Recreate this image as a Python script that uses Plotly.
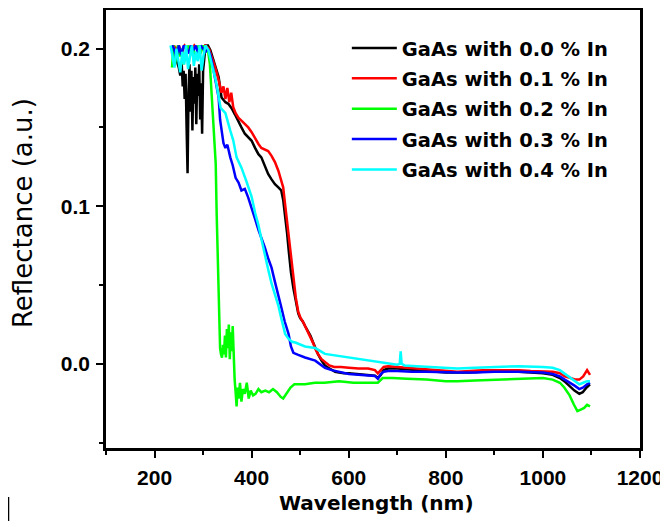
import plotly.graph_objects as go

# wavelength (nm) / reflectance (a.u.)
wl_00 = [238, 242, 246, 250, 253, 256, 258, 260, 262, 264,
         266, 268, 270, 272, 274, 276, 278, 280, 282, 284,
         286, 288, 290, 292, 294, 296, 298, 300, 302, 305,
         310, 315, 320, 326, 332, 338, 346, 352, 359, 366,
         372, 379, 386, 393, 400, 407, 414, 420, 427, 434,
         441, 448, 455, 461, 465, 469, 473, 477, 481, 486,
         491, 496, 500, 505, 510, 516, 521, 526, 531, 537,
         544, 551, 558, 565, 572, 580, 590, 600, 615, 630,
         645, 654, 660, 666, 672, 681, 700, 720, 740, 760,
         780, 800, 824, 850, 875, 900, 925, 950, 975, 1000,
         1020, 1035, 1044, 1055, 1065, 1075, 1082, 1090, 1097]
refl_00 = [0.202, 0.198, 0.192, 0.188, 0.183, 0.190, 0.176, 0.186, 0.168, 0.184,
           0.150, 0.121, 0.172, 0.190, 0.160, 0.186, 0.148, 0.182, 0.165, 0.188,
           0.152, 0.184, 0.170, 0.190, 0.155, 0.178, 0.146, 0.186, 0.192, 0.202,
           0.202, 0.199, 0.194, 0.188, 0.182, 0.169, 0.166, 0.165, 0.162, 0.158,
           0.154, 0.150, 0.146, 0.144, 0.1415, 0.137, 0.133, 0.131, 0.126, 0.1205,
           0.117, 0.114, 0.112, 0.110, 0.104, 0.095, 0.083, 0.070, 0.058, 0.048,
           0.040, 0.032, 0.029, 0.027, 0.024, 0.021, 0.018, 0.014, 0.010, 0.006,
           0.002, -0.001, -0.0025, -0.004, -0.005, -0.0055, -0.006, -0.006, -0.0065, -0.007,
           -0.0072, -0.0075, -0.009, -0.007, -0.004, -0.003, -0.003, -0.0035, -0.004, -0.0045,
           -0.005, -0.0055, -0.0055, -0.0055, -0.005, -0.005, -0.005, -0.005, -0.0055, -0.006,
           -0.007, -0.009, -0.011, -0.014, -0.017, -0.019, -0.018, -0.015, -0.013]

wl_01 = [240, 245, 250, 256, 262, 268, 275, 282, 290, 298,
         305, 312, 318, 325, 332, 338, 342, 346, 350, 354,
         358, 362, 367, 373, 380, 387, 393, 400, 407, 414,
         420, 427, 434, 441, 448, 455, 461, 465, 469, 473,
         477, 481, 486, 491, 496, 501, 507, 512, 517, 522,
         527, 532, 537, 544, 551, 560, 570, 584, 600, 620,
         640, 654, 660, 666, 672, 681, 700, 722, 750, 780,
         800, 824, 850, 875, 900, 925, 950, 975, 1000, 1020,
         1035, 1045, 1057, 1067, 1075, 1083, 1091, 1097]
refl_01 = [0.202, 0.199, 0.202, 0.197, 0.202, 0.200, 0.198, 0.202, 0.199, 0.201,
           0.202, 0.200, 0.195, 0.188, 0.180, 0.172, 0.176, 0.168, 0.175, 0.166,
           0.172, 0.163, 0.159, 0.156, 0.154, 0.152, 0.150, 0.147, 0.143, 0.1395,
           0.137, 0.136, 0.135, 0.132, 0.128, 0.1225, 0.117, 0.112, 0.101, 0.090,
           0.080, 0.070, 0.055, 0.042, 0.033, 0.029, 0.026, 0.023, 0.020, 0.017,
           0.013, 0.009, 0.006, 0.003, 0.001, -0.001, -0.002, -0.002, -0.0025, -0.003,
           -0.003, -0.004, -0.006, -0.004, -0.002, -0.0015, -0.002, -0.0025, -0.003, -0.004,
           -0.0045, -0.005, -0.0045, -0.004, -0.004, -0.004, -0.004, -0.0045, -0.005, -0.005,
           -0.006, -0.008, -0.009, -0.010, -0.010, -0.008, -0.004, -0.007]

wl_02 = [236, 239, 242, 245, 248, 252, 256, 260, 265, 270,
         275, 280, 285, 290, 295, 300, 305, 310, 314, 318,
         322, 326, 328, 330, 333, 335, 337, 339, 341, 343,
         345, 347, 349, 351, 353, 355, 357, 359, 361, 363,
         365, 367, 369, 371, 373, 376, 379, 382, 386, 390,
         394, 398, 403, 408, 414, 420, 428, 436, 444, 452,
         460, 465, 472, 480, 488, 496, 510, 530, 550, 580,
         610, 640, 660, 670, 690, 720, 760, 800, 824, 860,
         900, 950, 1000, 1020, 1035, 1044, 1055, 1064, 1071, 1078,
         1085, 1091, 1097]
refl_02 = [0.188, 0.202, 0.190, 0.198, 0.202, 0.195, 0.200, 0.190, 0.198, 0.202,
           0.196, 0.200, 0.193, 0.202, 0.197, 0.202, 0.198, 0.199, 0.190, 0.169,
           0.148, 0.127, 0.095, 0.065, 0.035, 0.010, 0.006, 0.004, 0.012, 0.006,
           0.018, 0.004, 0.022, 0.010, 0.025, 0.003, 0.020, 0.008, 0.024, 0.000,
           -0.010, -0.018, -0.027, -0.015, -0.022, -0.012, -0.024, -0.016, -0.019, -0.012,
           -0.022, -0.017, -0.020, -0.019, -0.016, -0.018, -0.017, -0.018, -0.016, -0.018,
           -0.021, -0.022, -0.019, -0.015, -0.013, -0.013, -0.013, -0.012, -0.012, -0.011,
           -0.012, -0.012, -0.012, -0.009, -0.009, -0.0095, -0.010, -0.011, -0.011, -0.0105,
           -0.010, -0.0095, -0.009, -0.010, -0.012, -0.015, -0.020, -0.026, -0.030, -0.029,
           -0.028, -0.026, -0.027]

wl_03 = [236, 240, 245, 250, 255, 260, 265, 270, 275, 280,
         285, 290, 295, 300, 305, 310, 315, 318, 325, 332,
         335, 338, 342, 346, 350, 356, 361, 367, 373, 379,
         386, 393, 400, 408, 414, 420, 427, 434, 441, 448,
         455, 461, 468, 476, 481, 486, 496, 510, 531, 551,
         565, 584, 600, 620, 640, 654, 660, 666, 672, 681,
         700, 730, 760, 800, 824, 860, 900, 950, 1000, 1020,
         1035, 1045, 1057, 1066, 1075, 1083, 1091, 1097]
refl_03 = [0.202, 0.200, 0.194, 0.202, 0.196, 0.202, 0.200, 0.197, 0.202, 0.199,
           0.202, 0.196, 0.202, 0.200, 0.198, 0.200, 0.196, 0.192, 0.180, 0.169,
           0.155, 0.148, 0.140, 0.137, 0.139, 0.131, 0.126, 0.118, 0.115, 0.110,
           0.111, 0.1055, 0.098, 0.091, 0.085, 0.080, 0.074, 0.067, 0.061, 0.052,
           0.044, 0.036, 0.027, 0.019, 0.011, 0.007, 0.0057, 0.004, 0.002, -0.0025,
           -0.004, -0.0055, -0.0065, -0.007, -0.0075, -0.0077, -0.0095, -0.0065, -0.005, -0.0045,
           -0.0045, -0.005, -0.005, -0.0055, -0.0055, -0.0055, -0.005, -0.005, -0.0055, -0.0065,
           -0.008, -0.010, -0.012, -0.014, -0.016, -0.015, -0.013, -0.012]

wl_04 = [233, 237, 241, 245, 249, 253, 257, 261, 265, 269,
         273, 277, 281, 285, 289, 293, 297, 301, 305, 311,
         318, 326, 336, 346, 356, 362, 369, 379, 389, 400,
         407, 414, 421, 427, 434, 441, 448, 455, 461, 465,
         469, 476, 483, 490, 500, 510, 520, 531, 551, 580,
         619, 650, 687, 700, 705, 707, 709, 715, 740, 770,
         800, 824, 860, 900, 950, 1000, 1020, 1035, 1044, 1055,
         1065, 1075, 1083, 1091, 1097]
refl_04 = [0.202, 0.196, 0.188, 0.200, 0.192, 0.185, 0.198, 0.190, 0.202, 0.187,
           0.195, 0.202, 0.189, 0.198, 0.192, 0.202, 0.186, 0.196, 0.202, 0.199,
           0.190, 0.180, 0.1625, 0.159, 0.148, 0.142, 0.131, 0.1245, 0.116, 0.106,
           0.096, 0.088, 0.078, 0.069, 0.060, 0.051, 0.044, 0.037, 0.029, 0.024,
           0.019, 0.016, 0.014, 0.0135, 0.012, 0.011, 0.0105, 0.010, 0.0063, 0.005,
           0.003, 0.0015, 0.0, -0.0005, 0.0, 0.008, 0.0, -0.001, -0.0015, -0.002,
           -0.0025, -0.003, -0.0025, -0.002, -0.0015, -0.002, -0.0025, -0.004, -0.006, -0.0085,
           -0.011, -0.013, -0.012, -0.011, -0.011]

series = [
    ("GaAs with 0.0 % In", wl_00, refl_00, "#000000"),
    ("GaAs with 0.1 % In", wl_01, refl_01, "#ff0000"),
    ("GaAs with 0.2 % In", wl_02, refl_02, "#00ff00"),
    ("GaAs with 0.3 % In", wl_03, refl_03, "#0000ff"),
    ("GaAs with 0.4 % In", wl_04, refl_04, "#00ffff"),
]

fig = go.Figure()
for i, (name, x, y, col) in enumerate(series):
    fig.add_trace(go.Scatter(x=x, y=y, mode="lines", name=name,
                             legendgroup=str(i),
                             line=dict(color=col, width=2.5)))

ARIAL = "Arial, Liberation Sans, sans-serif"
axis_common = dict(showline=True, linecolor="black", linewidth=2.5, mirror=True,
                   showgrid=False, zeroline=False, automargin=False,
                   ticks="outside", ticklen=7, tickwidth=2, tickcolor="black",
                   tickfont=dict(family=ARIAL, size=21, color="black", weight="bold"))

# the page body adds an 8px margin, so the figure is 8px smaller than the window
fig.update_layout(
    width=660, height=513,
    margin=dict(l=98, r=28, t=2, b=73),
    plot_bgcolor="white", paper_bgcolor="white",
    xaxis=dict(range=[100, 1200], tick0=0, dtick=200, ticklabelstandoff=2,
               minor=dict(dtick=100, ticklen=4, tickwidth=2, ticks="outside", tickcolor="black"),
               **axis_common),
    yaxis=dict(range=[-0.0534, 0.2245], tick0=0, dtick=0.1, tickformat=".1f",
               ticklabelstandoff=2,
               minor=dict(dtick=0.05, ticklen=4, tickwidth=2, ticks="outside", tickcolor="black"),
               **axis_common),
    legend=dict(x=0.451, y=0.957, xanchor="left", yanchor="top",
                bgcolor="rgba(0,0,0,0)", tracegroupgap=2, itemwidth=45,
                font=dict(family="DejaVu Sans", size=19.5, color="black", weight="bold")),
    showlegend=True,
)

# axis titles placed as annotations to match the original positions
fig.add_annotation(text="Wavelength (nm)", xref="paper", yref="paper",
                   x=0.507, y=-0.1256, xanchor="center", yanchor="middle",
                   showarrow=False,
                   font=dict(family="DejaVu Sans", size=20, color="black", weight="bold"))
fig.add_annotation(text="Reflectance (a.u.)", xref="paper", yref="paper",
                   x=-0.155, y=0.537, xanchor="center", yanchor="middle",
                   textangle=-90, showarrow=False,
                   font=dict(family="DejaVu Sans", size=26, color="black"))

# small stray bar at lower-left corner of the original image
fig.add_shape(type="line", xref="paper", yref="paper",
              x0=-0.1835, x1=-0.1835, y0=-0.112, y1=-0.167,
              line=dict(color="black", width=2.5))

fig.write_html("out.html")
